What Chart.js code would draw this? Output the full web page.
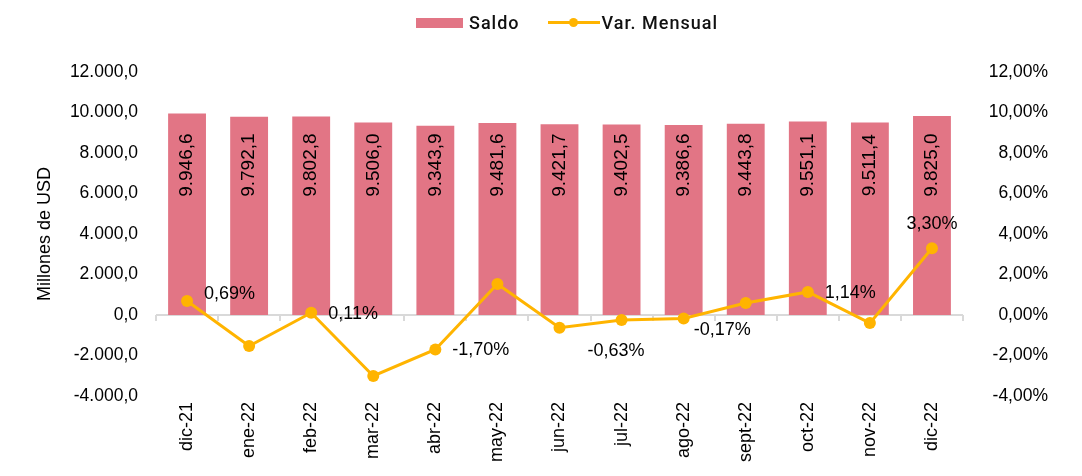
<!DOCTYPE html>
<html>
<head>
<meta charset="utf-8">
<script src="https://cdn.jsdelivr.net/npm/chart.js@4.4.1/dist/chart.umd.min.js"></script>
<style>
  body { margin: 0; background: #fff; }
  #wrap { position: relative; width: 1082px; height: 476px; }
  #legend {
    position: absolute; left: 416px; top: 12px;
    display: flex; align-items: center;
    font-family: Roboto, sans-serif; font-weight: 500; font-size: 18px;
    letter-spacing: 1px; color: #111;
  }
  .box { width: 47px; height: 10px; background: #E27585; margin-right: 6px; }
  .ln { position: relative; width: 52px; height: 3px; background: #FFB400; margin-left: 28px; margin-right: 2px; }
  .ln::after {
    content: ''; position: absolute; left: 21px; top: -3px;
    width: 9px; height: 9px; border-radius: 50%; background: #FFB400;
  }
</style>
</head>
<body>
<div id="wrap">
  <canvas id="chart" width="1082" height="476"></canvas>
  <div id="legend">
    <span class="box"></span><span>Saldo</span>
    <span class="ln"></span><span>Var. Mensual</span>
  </div>
</div>
<script>
const months = ['dic-21', 'ene-22', 'feb-22', 'mar-22', 'abr-22', 'may-22', 'jun-22',
  'jul-22', 'ago-22', 'sept-22', 'oct-22', 'nov-22', 'dic-22'];
const saldo = [9946.6, 9792.1, 9802.8, 9506.0, 9343.9, 9481.6, 9421.7,
  9402.5, 9386.6, 9443.8, 9551.1, 9511.4, 9825.0];
const varMensual = [0.69, -1.53, 0.11, -3.01, -1.70, 1.53, -0.63,
  -0.25, -0.17, 0.59, 1.14, -0.40, 3.30];
// only some points carry a label in the original
const varLabeled = [true, false, true, false, true, false, true,
  false, true, false, true, false, true];
const varLabelPos = ['right', '', 'right', '', 'right', '', 'lowRight',
  '', 'belowRight', '', 'right', '', 'above'];

const PINK = '#E27585';
const GOLD = '#FFB400';
const FONT = '"Liberation Sans", Arial, sans-serif';

function fmtSaldo(v) {
  return v.toLocaleString('de-DE', { minimumFractionDigits: 1, maximumFractionDigits: 1 });
}
function fmtPct(v, d) {
  return v.toFixed(d).replace('.', ',') + '%';
}

// zero line with category tick marks
const zeroLine = {
  id: 'zeroLine',
  beforeDatasetsDraw(chart) {
    const { ctx, chartArea, scales } = chart;
    const y0 = scales.y.getPixelForValue(0);
    const step = (chartArea.right - chartArea.left) / months.length;
    ctx.save();
    ctx.strokeStyle = '#D9D9D9';
    ctx.lineWidth = 2;
    ctx.beginPath();
    ctx.moveTo(chartArea.left, y0);
    ctx.lineTo(chartArea.right, y0);
    for (let i = 0; i <= months.length; i++) {
      const x = Math.round(chartArea.left + i * step);
      ctx.moveTo(x, y0);
      ctx.lineTo(x, y0 + 6);
    }
    ctx.stroke();
    ctx.restore();
  }
};

// value labels on bars and on selected line points
const valueLabels = {
  id: 'valueLabels',
  afterDatasetsDraw(chart) {
    const { ctx, scales } = chart;
    ctx.save();
    ctx.fillStyle = '#000';

    ctx.font = '19px ' + FONT;
    const bars = chart.getDatasetMeta(1).data;
    const yc = scales.y.getPixelForValue(7400);
    bars.forEach((b, i) => {
      ctx.save();
      ctx.translate(b.x, yc);
      ctx.rotate(-Math.PI / 2);
      ctx.textAlign = 'center';
      ctx.textBaseline = 'middle';
      ctx.fillText(fmtSaldo(saldo[i]), 0, 0);
      ctx.restore();
    });

    ctx.font = '18px ' + FONT;
    const pts = chart.getDatasetMeta(0).data;
    pts.forEach((p, i) => {
      if (!varLabeled[i]) return;
      const txt = fmtPct(varMensual[i], 2);
      const pos = varLabelPos[i];
      ctx.textBaseline = 'middle';
      if (pos === 'above') {
        ctx.textAlign = 'center';
        ctx.fillText(txt, p.x, p.y - 24);
      } else if (pos === 'lowRight') {
        ctx.textAlign = 'left';
        ctx.fillText(txt, p.x + 28, p.y + 23);
      } else if (pos === 'belowRight') {
        ctx.textAlign = 'left';
        ctx.fillText(txt, p.x + 10, p.y + 12);
      } else {
        ctx.textAlign = 'left';
        ctx.fillText(txt, p.x + 17, p.y - (i === 0 ? 7 : -1));
      }
    });
    ctx.restore();
  }
};

new Chart(document.getElementById('chart').getContext('2d'), {
  data: {
    labels: months,
    datasets: [
      {
        type: 'line',
        label: 'Var. Mensual',
        data: varMensual,
        yAxisID: 'y1',
        borderColor: GOLD,
        backgroundColor: GOLD,
        borderWidth: 3,
        pointRadius: 6,
        pointHoverRadius: 6,
        pointBackgroundColor: GOLD,
        pointBorderWidth: 0,
        tension: 0,
        order: 1
      },
      {
        type: 'bar',
        label: 'Saldo',
        data: saldo,
        yAxisID: 'y',
        backgroundColor: PINK,
        barPercentage: 0.61,
        categoryPercentage: 1,
        order: 2
      }
    ]
  },
  options: {
    responsive: false,
    animation: false,
    layout: { padding: { top: 72, right: 34, bottom: 0, left: 0 } },
    plugins: {
      legend: { display: false },
      tooltip: { enabled: false }
    },
    scales: {
      x: {
        grid: { display: false, drawTicks: false },
        border: { display: false },
        ticks: {
          color: '#000',
          font: { family: FONT, size: 18 },
          minRotation: 90,
          maxRotation: 90,
          padding: 6
        },
        afterFit(scale) { scale.height = 80; }
      },
      y: {
        position: 'left',
        min: -4000,
        max: 12000,
        grid: { display: false, drawTicks: false },
        border: { display: false },
        ticks: {
          stepSize: 2000,
          color: '#000',
          padding: 18,
          font: { family: FONT, size: 17.5 },
          callback: v => fmtSaldo(v)
        },
        title: {
          display: true,
          text: 'Millones de USD',
          color: '#000',
          font: { family: FONT, size: 18 },
          padding: { top: 34, bottom: 0 }
        },
        afterFit(scale) { scale.width = 156; }
      },
      y1: {
        position: 'right',
        min: -4,
        max: 12,
        grid: { display: false, drawTicks: false },
        border: { display: false },
        ticks: {
          stepSize: 2,
          color: '#000',
          crossAlign: 'far',
          font: { family: FONT, size: 17.5 },
          callback: v => fmtPct(v, 2)
        },
        afterFit(scale) { scale.width = 85; }
      }
    }
  },
  plugins: [zeroLine, valueLabels]
});
</script>
</body>
</html>
